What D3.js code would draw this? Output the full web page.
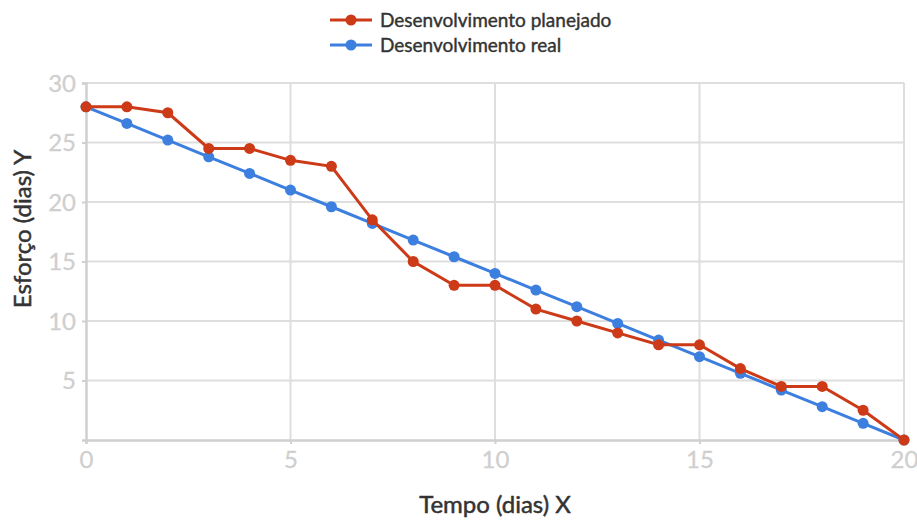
<!DOCTYPE html>
<html>
<head>
<meta charset="utf-8">
<script src="https://cdn.jsdelivr.net/npm/d3@7"></script>
<style>
  body { margin: 0; background: #fff; font-family: Lato, "Open Sans", sans-serif; }
</style>
</head>
<body>
<div id="chart"></div>
<script>
var width = 917,
    height = 520;

// data
const days = [0, 1, 2, 3, 4, 5, 6, 7, 8, 9, 10, 11, 12, 13, 14, 15, 16, 17, 18, 19, 20];
const planejado = [28, 28, 27.5, 24.5, 24.5, 23.5, 23, 18.5, 15, 13, 13, 11, 10, 9, 8, 8, 6, 4.5, 4.5, 2.5, 0];
const real = [28, 26.6, 25.2, 23.8, 22.4, 21, 19.6, 18.2, 16.8, 15.4, 14, 12.6, 11.2, 9.8, 8.4, 7, 5.6, 4.2, 2.8, 1.4, 0];
const xTicks = [0, 5, 10, 15, 20];
const yTicks = [5, 10, 15, 20, 25, 30];
const seriesNames = ["Desenvolvimento planejado", "Desenvolvimento real"];
const colors = ["#cc3a17", "#3d7fdf"];

var margin = {left: 86, right: 13, top: 83, bottom: 80};

var svg = d3.select("#chart").append("svg")
    .attr("width", width)
    .attr("height", height);

var x = d3.scaleLinear().domain([0, 20]).range([margin.left, width - margin.right]);
var y = d3.scaleLinear().domain([0, 30]).range([height - margin.bottom, margin.top]);

// grid
svg.append("g")
    .selectAll("line")
    .data(yTicks)
    .join("line")
    .attr("x1", x(0)).attr("x2", x(20))
    .attr("y1", d => y(d)).attr("y2", d => y(d))
    .attr("stroke", "#dedede").attr("stroke-width", 2);

svg.append("g")
    .selectAll("line")
    .data(xTicks.slice(1))
    .join("line")
    .attr("x1", d => x(d)).attr("x2", d => x(d))
    .attr("y1", y(0)).attr("y2", y(30))
    .attr("stroke", "#dedede").attr("stroke-width", 2);

// axes
var xAxis = svg.append("g")
    .attr("transform", "translate(0," + y(0) + ")")
    .call(d3.axisBottom(x).tickValues(xTicks).tickSize(4).tickPadding(7));
var yAxis = svg.append("g")
    .attr("transform", "translate(" + x(0) + ",0)")
    .call(d3.axisLeft(y).tickValues(yTicks).tickSize(4).tickPadding(6));

[xAxis, yAxis].forEach(function (g) {
    g.select(".domain").attr("stroke", "#d0d0d0").attr("stroke-width", 2.5);
    g.selectAll(".tick line").attr("stroke", "#d0d0d0").attr("stroke-width", 2);
    g.selectAll(".tick text")
        .attr("fill", "#cfcfcf")
        .attr("stroke", "#cfcfcf")
        .attr("stroke-width", 0.3)
        .attr("font-family", "Lato, sans-serif")
        .attr("font-size", "24px");
});
yAxis.selectAll(".tick text").attr("dy", "0.35em");

// axis titles
svg.append("text")
    .attr("x", (x(0) + x(20)) / 2)
    .attr("y", 513)
    .attr("text-anchor", "middle")
    .attr("fill", "#333")
    .attr("stroke", "#333")
    .attr("stroke-width", 0.5)
    .attr("font-size", "24px")
    .text("Tempo (dias) X");

svg.append("text")
    .attr("transform", "translate(31,229) rotate(-90)")
    .attr("text-anchor", "middle")
    .attr("fill", "#333")
    .attr("stroke", "#333")
    .attr("stroke-width", 0.5)
    .attr("font-size", "24px")
    .text("Esforço (dias) Y");

// lines
var line = d3.line()
    .x((d, i) => x(days[i]))
    .y(d => y(d));

[real, planejado].forEach(function (values) {
    var c = values === planejado ? colors[0] : colors[1];
    svg.append("path")
        .attr("d", line(values))
        .attr("fill", "none")
        .attr("stroke", c)
        .attr("stroke-width", 3);
    svg.append("g")
        .selectAll("circle")
        .data(values)
        .join("circle")
        .attr("cx", (d, i) => x(days[i]))
        .attr("cy", d => y(d))
        .attr("r", 5.5)
        .attr("fill", c);
});

// legend
var legend = svg.append("g")
    .attr("transform", "translate(330,20)");

var item = legend.selectAll("g")
    .data(seriesNames)
    .join("g")
    .attr("transform", (d, i) => "translate(0," + i * 25 + ")");

item.append("line")
    .attr("x1", 0).attr("x2", 42)
    .attr("stroke", (d, i) => colors[i])
    .attr("stroke-width", 3);
item.append("circle")
    .attr("cx", 21).attr("r", 5.5)
    .attr("fill", (d, i) => colors[i]);
item.append("text")
    .attr("x", 50)
    .attr("dy", "0.35em")
    .attr("fill", "#333")
    .attr("stroke", "#333")
    .attr("stroke-width", 0.4)
    .attr("font-size", "19px")
    .text(d => d);
</script>
</body>
</html>
